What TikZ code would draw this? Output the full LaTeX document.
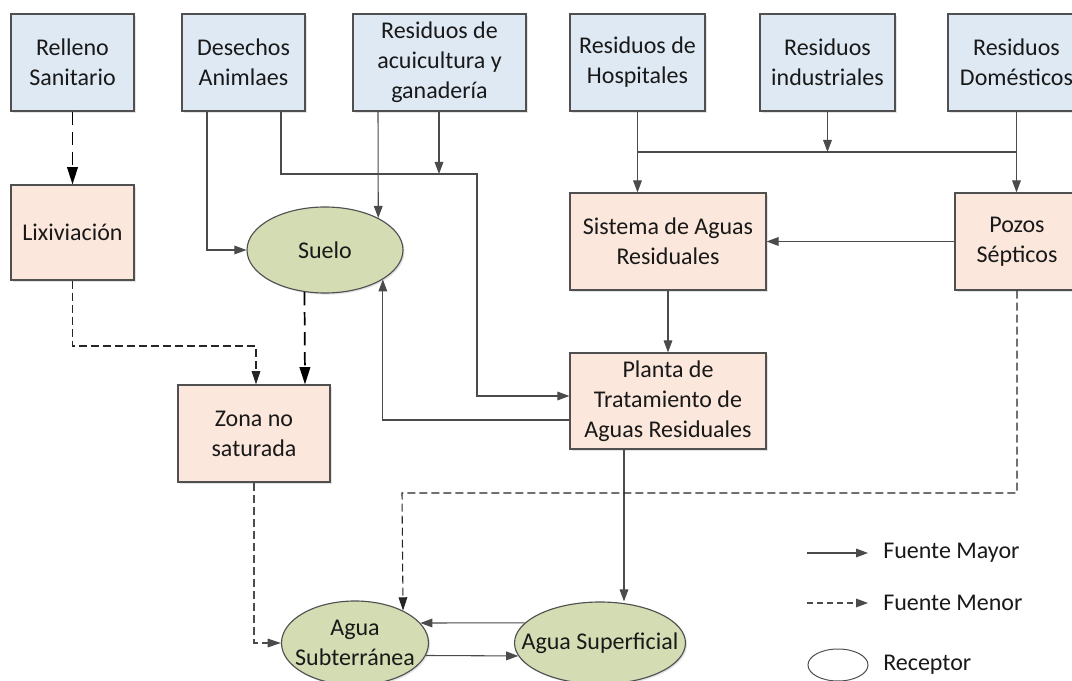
\documentclass[tikz,border=0pt]{standalone}
\usepackage{fontspec}
\setmainfont{Carlito}
\usetikzlibrary{arrows.meta,shapes.geometric,shadows}
\definecolor{bluefill}{RGB}{222,233,244}
\definecolor{peach}{RGB}{251,231,219}
\definecolor{olive}{RGB}{211,220,178}
\definecolor{edge}{RGB}{80,80,80}
\definecolor{lnc}{RGB}{75,75,75}
\definecolor{txt}{RGB}{25,25,25}
\tikzset{
  sz/.style 2 args={minimum width=#1*0.75pt, minimum height=#2*0.75pt},
  shad/.style={drop shadow={shadow xshift=1.2pt,shadow yshift=-1.2pt,opacity=0.22}},
  boxbase/.style={draw=edge, line width=0.85pt, align=center, inner sep=2pt, shad},
  srcbox/.style={boxbase, fill=bluefill},
  midbox/.style={boxbase, fill=peach},
  recv/.style={ellipse, draw=edge, fill=olive, line width=0.85pt, align=center,
               inner xsep=-16pt, inner ysep=-2pt, shad},
  plain/.style={draw=lnc, line width=0.8pt},
  conn/.style={plain, -{Triangle[length=9pt,width=6.5pt]}},
  dconn/.style={draw=black!85, line width=0.8pt, dash pattern=on 6pt off 3pt,
                -{Triangle[length=10pt,width=6.5pt]}},
  dgray/.style={dconn, draw=lnc},
  dthick/.style={draw=black, line width=1.3pt, dash pattern=on 10pt off 5pt,
                 -{Triangle[length=13pt,width=8pt]}},
  legdash/.style={draw=lnc, line width=0.8pt, dash pattern=on 4.5pt off 3pt,
                  -{Triangle[length=9pt,width=6.5pt]}},
}
\begin{document}
\begin{tikzpicture}[x=0.75pt,y=-0.75pt,
  every node/.style={font=\fontsize{18}{22.5}\selectfont, text=txt}]
\fill[white] (0,0) rectangle (1072,681);
\useasboundingbox (0,0) rectangle (1072,681);

% sources
\node[srcbox, sz={123}{97}] (rs) at (72.5,62.5) {Relleno\\Sanitario};
\node[srcbox, sz={123}{97}] (da) at (243.5,62.5) {Desechos\\Animlaes};
\node[srcbox, sz={173}{97}] (ra) at (439.5,62.5) {Residuos de\\acuicultura y\\ganadería};
\node[srcbox, sz={135}{97}] (rh) at (637.5,62.5) {Residuos de\\Hospitales};
\node[srcbox, sz={135}{97}] (ri) at (827.5,62.5) {Residuos\\industriales};
\node[srcbox, sz={137}{97}] (rd) at (1016.5,62.5) {Residuos\\Domésticos};

% intermediates
\node[midbox, sz={123}{95}] (lx) at (72.5,232.5) {Lixiviación};
\node[recv, sz={156}{86}] (su) at (325,250) {Suelo};
\node[midbox, sz={196}{97}] (sar) at (668,241.5) {Sistema de Aguas\\Residuales};
\node[midbox, sz={124}{97}] (pz) at (1017,241.5) {Pozos\\Sépticos};
\node[midbox, sz={152}{97}] (zn) at (254,433.5) {Zona no\\saturada};
\node[midbox, sz={196}{96}] (pt) at (668,401) {Planta de\\Tratamiento de\\Aguas Residuales};

% receptors
\node[recv, sz={147}{84}] (as) at (355,643) {Agua\\Subterránea};
\node[recv, sz={171}{82}] (asup) at (600,643) {Agua Superficial};

% helper coordinates
\coordinate (x207) at (207,0);
\coordinate (x281) at (281,0);
\coordinate (x378) at (378,0);
\coordinate (x439) at (439,0);
\coordinate (x305) at (305,0);
\coordinate (x402) at (402,0);
\coordinate (x624) at (624,0);
\coordinate (j174) at (477,174);
\coordinate (j152) at (0,152);
\coordinate (j493) at (0,493);
\coordinate (c346) at (256,346);

% connectors
\draw[dthick] (rs.south) -- (lx.north);
\draw[conn] (da.south -| x207) |- (su.west);
\draw[conn] (da.south -| x281) |- (j174) |- ([yshift=3.75pt]pt.west);
\draw[conn] (ra.south -| x378) -- (su.31);
\draw[conn] (ra.south -| x439) -- (x439 |- j174);
\draw[plain] (rh.south |- j152) -- (rd.south |- j152);
\draw[conn] (rh.south) -- (rh.south |- sar.north);
\draw[conn] (ri.south) -- (ri.south |- j152);
\draw[conn] (rd.south) -- (rd.south |- pz.north);
\draw[conn] (pz.west) -- (sar.east);
\draw[conn] (sar.south) -- (pt.north);
\draw[conn] ([yshift=-14.25pt]pt.west) -| (su.-27);
\draw[conn] (pt.south -| x624) -- (x624 |- asup.north);
\draw[dconn] (pz.south) |- (x402 |- j493) -- (as.34.5);
\draw[dconn] (lx.south) |- (c346) -- (c346 |- zn.north);
\draw[dthick] (su.-116) -- (x305 |- zn.north);
\draw[dgray] (zn.south) |- (as.west);
\draw[conn] (asup.165) -- (as.17);
\draw[conn] (as.-10.5) -- (asup.-171);

% legend
\coordinate (l1a) at (807,553);
\coordinate (l1b) at (868,553);
\coordinate (l2a) at (807,603);
\coordinate (l2b) at (868,603);
\draw[conn] (l1a) -- (l1b);
\draw[legdash] (l2a) -- (l2b);
\node[anchor=west, inner sep=0pt] (l1t) at (883,553) {Fuente Mayor};
\node[anchor=west, inner sep=0pt] (l2t) at (883,603) {Fuente Menor};
\node[ellipse, draw=edge, line width=0.75pt, sz={60}{32}, inner sep=0pt] (l3) at (838,665) {};
\node[anchor=west, inner sep=0pt] (l3t) at (883,665) {Receptor};
\end{tikzpicture}
\end{document}
